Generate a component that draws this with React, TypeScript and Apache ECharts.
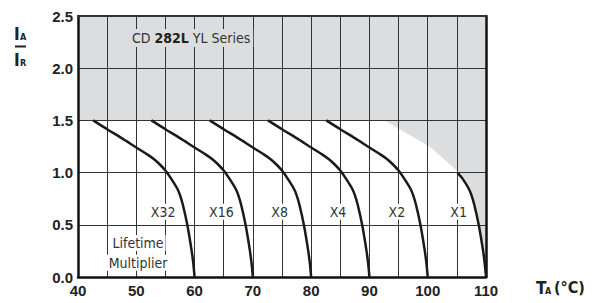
import React, { useEffect, useRef } from "react";
import * as echarts from "echarts";

// Temperature axis (°C) and ratio axis
const xMin = 40;
const xMax = 110;
const xStep = 5;
const yMin = 0;
const yMax = 2.5;
const yStep = 0.5;

// Derating curves, one per lifetime multiplier: [T (°C), IA/IR]
const curveX32 = [[42.6, 1.5], [45, 1.415], [47.5, 1.33], [50, 1.24], [52, 1.17], [53, 1.13], [54, 1.08], [55, 1.02], [56, 0.94], [57, 0.85], [57.5, 0.785], [58, 0.69], [58.75, 0.5], [59.5, 0.25], [59.8, 0.12], [60, 0]];
const curveX16 = [[52.6, 1.5], [55, 1.415], [57.5, 1.33], [60, 1.24], [62, 1.17], [63, 1.13], [64, 1.08], [65, 1.02], [66, 0.94], [67, 0.85], [67.5, 0.785], [68, 0.69], [68.75, 0.5], [69.5, 0.25], [69.8, 0.12], [70, 0]];
const curveX8 = [[62.6, 1.5], [65, 1.415], [67.5, 1.33], [70, 1.24], [72, 1.17], [73, 1.13], [74, 1.08], [75, 1.02], [76, 0.94], [77, 0.85], [77.5, 0.785], [78, 0.69], [78.75, 0.5], [79.5, 0.25], [79.8, 0.12], [80, 0]];
const curveX4 = [[72.6, 1.5], [75, 1.415], [77.5, 1.33], [80, 1.24], [82, 1.17], [83, 1.13], [84, 1.08], [85, 1.02], [86, 0.94], [87, 0.85], [87.5, 0.785], [88, 0.69], [88.75, 0.5], [89.5, 0.25], [89.8, 0.12], [90, 0]];
const curveX2 = [[82.6, 1.5], [85, 1.415], [87.5, 1.33], [90, 1.24], [92, 1.17], [93, 1.13], [94, 1.08], [95, 1.02], [96, 0.94], [97, 0.85], [97.5, 0.785], [98, 0.69], [98.75, 0.5], [99.5, 0.25], [99.8, 0.12], [100, 0]];
const curveX1 = [[105.1, 1.0], [106, 0.94], [107, 0.85], [107.5, 0.785], [108, 0.69], [108.75, 0.5], [109.5, 0.25], [109.8, 0.12], [110, 0]];

// Upper edge of the allowed (white) region to the right of X2
const limitEdge = [[92.65, 1.5], [95.5, 1.405], [98, 1.325], [100.4, 1.246], [102.4, 1.15], [104.95, 1.02], [105.1, 1.0]];
const limitLevel = 1.5;

// Curve labels
const curveNames = ["X32", "X16", "X8", "X4", "X2", "X1"];
const curveLabelX = [54.6, 64.6, 74.6, 84.6, 94.7, 105.3];
const curveLabelY = [0.625, 0.625, 0.625, 0.625, 0.625, 0.625];

const titleText = ["CD ", "282L", " YL Series"];
const titlePos = [59.4, 2.29];
const noteLines = ["Lifetime", "Multiplier"];
const noteX = 50.3;
const noteY = [0.325, 0.137];

const curves = [curveX32, curveX16, curveX8, curveX4, curveX2, curveX1];

const NARROW = '"Liberation Sans Narrow", "DejaVu Sans Condensed", "Open Sans", sans-serif';
const BOLD = '"Liberation Sans", Arial, sans-serif';
const GRAY = "#dcdddf";

export default function App() {
  const ref = useRef<HTMLDivElement>(null);

  useEffect(() => {
    if (!ref.current) return;
    const chart = echarts.init(ref.current, undefined, { renderer: "svg" });

    const lineSeries = curves.map((pts, i) => ({
      type: "line",
      name: curveNames[i],
      data: pts,
      xAxisIndex: 0,
      yAxisIndex: 0,
      symbol: "none",
      smooth: 0.3,
      lineStyle: { color: "#1a1a1a", width: 2.5 },
      z: 4,
      silent: true,
    }));

    const option: any = {
      animation: false,
      grid: { left: 78, right: 109, top: 16, bottom: 26 },
      xAxis: [
        {
          type: "value",
          min: xMin,
          max: xMax,
          interval: xStep,
          position: "bottom",
          z: 3,
          axisLine: { show: true, onZero: false, lineStyle: { color: "#111", width: 2.5 } },
          axisTick: { show: false },
          axisLabel: {
            formatter: (v: number) => (v % 10 === 0 ? String(v) : ""),
            fontFamily: BOLD,
            fontWeight: "bold",
            fontSize: 15,
            color: "#222",
            margin: 6,
          },
          splitLine: { show: true, lineStyle: { color: "#333", width: 1 } },
        },
        {
          type: "value",
          min: xMin,
          max: xMax,
          interval: xStep,
          position: "top",
          z: 3,
          axisLine: { show: true, onZero: false, lineStyle: { color: "#333", width: 2 } },
          axisTick: { show: false },
          axisLabel: { show: false },
          splitLine: { show: false },
        },
      ],
      yAxis: [
        {
          type: "value",
          min: yMin,
          max: yMax,
          interval: yStep,
          position: "left",
          z: 3,
          axisLine: { show: true, onZero: false, lineStyle: { color: "#111", width: 2.5 } },
          axisTick: { show: false },
          axisLabel: {
            formatter: (v: number) => v.toFixed(1),
            fontFamily: BOLD,
            fontWeight: "bold",
            fontSize: 15,
            color: "#222",
            margin: 5,
          },
          splitLine: { show: true, lineStyle: { color: "#333", width: 1 } },
        },
        {
          type: "value",
          min: yMin,
          max: yMax,
          interval: yStep,
          position: "right",
          z: 3,
          axisLine: { show: true, onZero: false, lineStyle: { color: "#111", width: 2.5 } },
          axisTick: { show: false },
          axisLabel: { show: false },
          splitLine: { show: false },
        },
      ],
      series: [
        {
          type: "custom",
          xAxisIndex: 0,
          yAxisIndex: 0,
          z: 1,
          silent: true,
          data: [[xMin, yMax]],
          renderItem: (_params: any, api: any) => {
            const pts: number[][] = [];
            pts.push(api.coord([xMin, yMax]));
            pts.push(api.coord([xMax, yMax]));
            for (let i = curveX1.length - 1; i >= 0; i--) pts.push(api.coord(curveX1[i]));
            for (let i = limitEdge.length - 1; i >= 0; i--) pts.push(api.coord(limitEdge[i]));
            pts.push(api.coord([xMin, limitLevel]));
            return {
              type: "polygon",
              shape: { points: pts, smooth: 0 },
              style: { fill: GRAY },
            };
          },
        },
        ...lineSeries,
        {
          type: "custom",
          xAxisIndex: 0,
          yAxisIndex: 0,
          z: 5,
          silent: true,
          data: [[0]],
          renderItem: (_params: any, api: any) => {
            const children: any[] = [];
            curveNames.forEach((name, i) => {
              const p = api.coord([curveLabelX[i], curveLabelY[i]]);
              children.push({
                type: "text",
                x: p[0],
                y: p[1],
                style: {
                  text: name,
                  align: "center",
                  verticalAlign: "middle",
                  fontFamily: NARROW,
                  fontSize: 14,
                  fill: "#333",
                  backgroundColor: "#fff",
                  padding: [1, 2],
                },
              });
            });
            noteLines.forEach((t, i) => {
              const p = api.coord([noteX, noteY[i]]);
              children.push({
                type: "text",
                x: p[0],
                y: p[1],
                style: {
                  text: t,
                  align: "center",
                  verticalAlign: "middle",
                  fontFamily: NARROW,
                  fontSize: 14,
                  fill: "#333",
                  backgroundColor: "#fff",
                  padding: [1, 2],
                },
              });
            });
            const tp = api.coord(titlePos);
            children.push({
              type: "text",
              x: tp[0],
              y: tp[1],
              style: {
                text: `{n|${titleText[0]}}{b|${titleText[1]}}{n|${titleText[2]}}`,
                align: "center",
                verticalAlign: "middle",
                backgroundColor: GRAY,
                padding: [2, 3],
                rich: {
                  n: { fontFamily: NARROW, fontSize: 14, fill: "#333", color: "#333" },
                  b: { fontFamily: NARROW, fontSize: 14, fontWeight: "bold", fill: "#222", color: "#222" },
                },
              },
            });
            return { type: "group", children };
          },
        },
      ],
      graphic: [
        { type: "text", left: 14, top: 25, style: { text: "I", fontFamily: NARROW, fontWeight: "bold", fontSize: 17, fill: "#222" } },
        { type: "text", left: 20, top: 32, style: { text: "A", fontFamily: NARROW, fontWeight: "bold", fontSize: 9, fill: "#222" } },
        { type: "line", shape: { x1: 15, y1: 46.5, x2: 26, y2: 46.5 }, style: { stroke: "#222", lineWidth: 2 } },
        { type: "text", left: 14, top: 51, style: { text: "I", fontFamily: NARROW, fontWeight: "bold", fontSize: 17, fill: "#222" } },
        { type: "text", left: 20, top: 58, style: { text: "R", fontFamily: NARROW, fontWeight: "bold", fontSize: 9, fill: "#222" } },
        { type: "text", left: 536, top: 279, style: { text: "T", fontFamily: NARROW, fontWeight: "bold", fontSize: 17, fill: "#222" } },
        { type: "text", left: 545, top: 286, style: { text: "A", fontFamily: NARROW, fontWeight: "bold", fontSize: 9, fill: "#222" } },
        { type: "text", left: 554, top: 279, style: { text: "(°C)", fontFamily: NARROW, fontWeight: "bold", fontSize: 16, fill: "#222" } },
      ],
    };

    chart.setOption(option);
    return () => chart.dispose();
  }, []);

  return (
    <div
      ref={ref}
      style={{ position: "absolute", left: 0, top: 0, width: 595, height: 303, background: "#fff" }}
    />
  );
}
